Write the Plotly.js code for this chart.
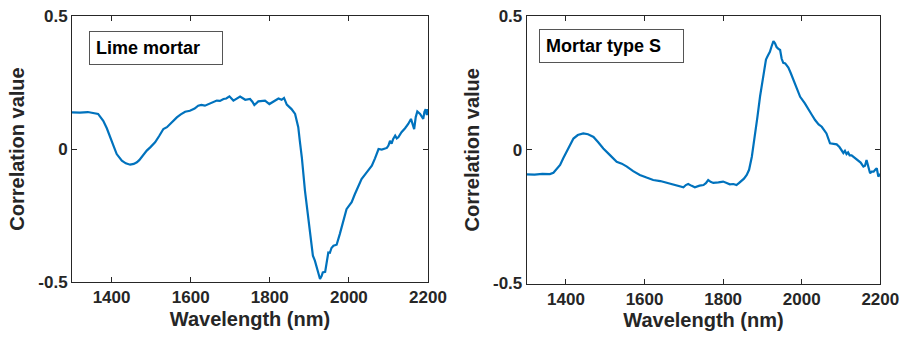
<!DOCTYPE html>
<html>
<head>
<meta charset="utf-8">
<script src="https://cdn.plot.ly/plotly-3.0.1.min.js"></script>
<style>html,body{margin:0;padding:0;background:#fff;}#chart{width:903px;height:340px;}</style>
</head>
<body>
<div id="chart"></div>
<script>
// Wavelength (nm) and correlation values
const limeWavelength = [1300,1320,1340,1355,1366,1372,1379,1388,1396,1405,1413,1420,1426,1436,1447,1456,1464,1470,1476,1482,1489,1499,1510,1520,1531,1540,1548,1556,1565,1575,1586,1598,1610,1619,1627,1636,1649,1657,1666,1674,1683,1690,1698,1708,1716,1725,1738,1750,1756,1761,1771,1780,1788,1799,1806,1813,1822,1830,1836,1843,1849,1855,1864,1872,1876,1881,1889,1898,1904,1909,1914,1919,1923,1927,1931,1934,1940,1944,1948,1952,1956,1961,1969,1977,1986,1994,2001,2007,2015,2024,2032,2045,2058,2066,2075,2083,2091,2096,2100,2104,2108,2112,2117,2121,2125,2129,2133,2142,2150,2157,2161,2165,2169,2173,2180,2184,2188,2191,2194,2197,2200];
const limeCorr = [0.138,0.137,0.139,0.136,0.132,0.120,0.106,0.078,0.044,0.012,-0.019,-0.035,-0.044,-0.054,-0.059,-0.056,-0.050,-0.042,-0.031,-0.018,-0.006,0.008,0.025,0.048,0.075,0.082,0.094,0.104,0.119,0.130,0.140,0.144,0.152,0.163,0.166,0.163,0.170,0.176,0.182,0.181,0.188,0.190,0.198,0.182,0.190,0.197,0.185,0.188,0.178,0.165,0.179,0.181,0.182,0.169,0.176,0.182,0.190,0.185,0.192,0.167,0.160,0.150,0.132,0.082,0.030,-0.031,-0.157,-0.270,-0.345,-0.401,-0.420,-0.445,-0.468,-0.489,-0.478,-0.464,-0.462,-0.430,-0.389,-0.390,-0.372,-0.364,-0.360,-0.320,-0.272,-0.226,-0.212,-0.200,-0.170,-0.140,-0.113,-0.088,-0.063,-0.035,0.000,-0.002,0.000,0.004,0.013,0.031,0.020,0.038,0.050,0.040,0.044,0.055,0.063,0.078,0.094,0.113,0.090,0.075,0.120,0.141,0.132,0.120,0.113,0.140,0.150,0.128,0.150];

const mortarWavelength = [1300,1320,1340,1359,1368,1376,1385,1393,1402,1410,1419,1430,1444,1456,1470,1482,1495,1512,1529,1542,1555,1571,1588,1605,1622,1640,1656,1670,1685,1699,1705,1711,1720,1728,1740,1750,1756,1762,1768,1775,1788,1800,1809,1817,1826,1834,1840,1846,1853,1860,1866,1873,1877,1881,1887,1894,1901,1909,1914,1919,1923,1928,1932,1936,1940,1945,1949,1953,1958,1962,1966,1972,1979,1987,1996,2008,2017,2026,2034,2043,2051,2063,2072,2080,2089,2096,2102,2106,2110,2114,2118,2122,2127,2135,2144,2150,2157,2161,2165,2170,2174,2178,2183,2187,2191,2195,2200];
const mortarCorr = [-0.092,-0.093,-0.090,-0.091,-0.086,-0.072,-0.057,-0.032,-0.007,0.020,0.042,0.055,0.061,0.058,0.048,0.028,0.005,-0.020,-0.045,-0.052,-0.063,-0.080,-0.094,-0.104,-0.113,-0.117,-0.123,-0.128,-0.134,-0.140,-0.132,-0.128,-0.135,-0.140,-0.134,-0.132,-0.125,-0.113,-0.120,-0.124,-0.122,-0.119,-0.124,-0.129,-0.128,-0.132,-0.125,-0.117,-0.108,-0.094,-0.075,-0.026,0.011,0.048,0.120,0.200,0.260,0.337,0.352,0.366,0.385,0.406,0.398,0.384,0.378,0.373,0.340,0.325,0.323,0.315,0.307,0.287,0.262,0.235,0.198,0.173,0.154,0.130,0.111,0.095,0.086,0.061,0.024,0.022,0.020,0.010,-0.001,-0.012,-0.004,-0.016,-0.010,-0.021,-0.021,-0.030,-0.040,-0.048,-0.063,-0.060,-0.038,-0.070,-0.088,-0.082,-0.082,-0.075,-0.069,-0.100,-0.090];

const xTicks = [1400,1600,1800,2000,2200];
const yTicks = [-0.5,0,0.5];
const yTickLabels = ['-0.5','0','0.5'];
const panelLabels = ['Lime mortar','Mortar type S'];

const fontFam = 'Arial, "Liberation Sans", Helvetica, sans-serif';
const axCol = '#262626';
const lineCol = '#0072BD';

function xax(domain, anchor){
  return {domain: domain, anchor: anchor, range:[1300,2200], tickvals:xTicks, ticktext:xTicks.map(String),
    ticks:'inside', ticklen:5, tickcolor:axCol, tickwidth:1, mirror:'ticks', showline:true, linecolor:axCol, linewidth:1,
    showgrid:false, zeroline:false,
    tickfont:{family:fontFam, size:17, color:axCol, weight:'bold'},
    title:{text:'Wavelength (nm)', font:{family:fontFam, size:20, color:axCol, weight:'bold'}, standoff:5}};
}
function yax(domain, anchor){
  return {domain: domain, anchor: anchor, range:[-0.5,0.5], tickvals:yTicks, ticktext:yTickLabels,
    ticks:'inside', ticklen:5, tickcolor:axCol, tickwidth:1, mirror:'ticks', showline:true, linecolor:axCol, linewidth:1,
    showgrid:false, zeroline:false,
    tickfont:{family:fontFam, size:17, color:axCol, weight:'bold'},
    title:{text:'Correlation value', font:{family:fontFam, size:20, color:axCol, weight:'bold'}, standoff:8}};
}

const traces = [
  {x:limeWavelength, y:limeCorr, type:'scatter', mode:'lines', line:{color:lineCol, width:2.2}, xaxis:'x', yaxis:'y', hoverinfo:'skip'},
  {x:mortarWavelength, y:mortarCorr, type:'scatter', mode:'lines', line:{color:lineCol, width:2.2}, xaxis:'x2', yaxis:'y2', hoverinfo:'skip'}
];

const W=903, H=340;
const layout = {
  width:W, height:H, margin:{l:0,r:0,t:0,b:0}, showlegend:false,
  paper_bgcolor:'#fff', plot_bgcolor:'#fff',
  xaxis: xax([72/W, 428/W], 'y'),
  yaxis: yax([1-282/H, 1-16/H], 'x'),
  xaxis2: xax([526.7/W, 880.3/W], 'y2'),
  yaxis2: yax([1-283.5/H, 1-16/H], 'x2'),
  annotations: [
    {xref:'paper', yref:'paper', x:89/W, y:1-31/H, xanchor:'left', yanchor:'top', text:panelLabels[0], showarrow:false,
     align:'left', width:120, height:20, borderpad:6, bordercolor:'#555', borderwidth:1, bgcolor:'#fff',
     font:{family:fontFam, size:18, color:'#000', weight:'bold'}},
    {xref:'paper', yref:'paper', x:539/W, y:1-29/H, xanchor:'left', yanchor:'top', text:panelLabels[1], showarrow:false,
     align:'left', width:131, height:20, borderpad:6, bordercolor:'#555', borderwidth:1, bgcolor:'#fff',
     font:{family:fontFam, size:18, color:'#000', weight:'bold'}}
  ]
};
Plotly.newPlot('chart', traces, layout, {staticPlot:true, displayModeBar:false});
</script>
</body>
</html>
